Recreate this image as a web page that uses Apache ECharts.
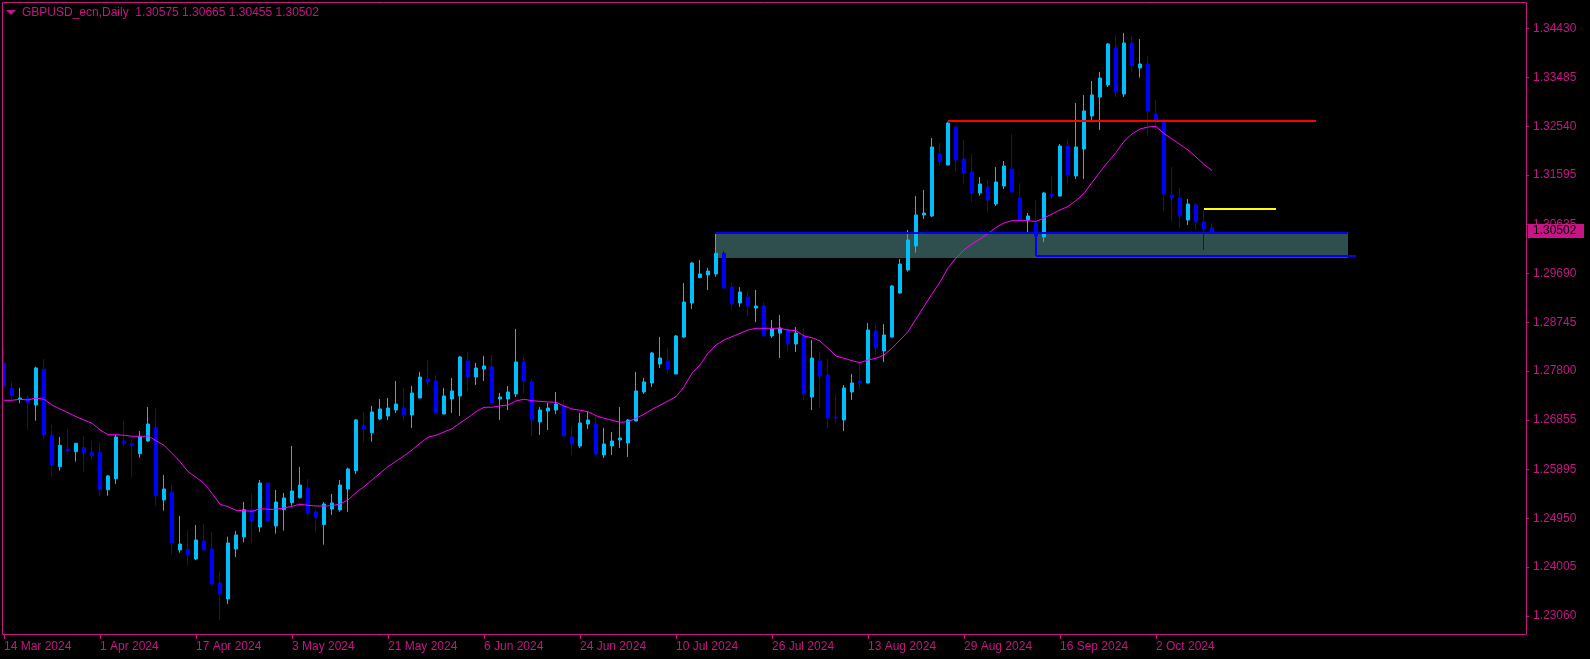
<!DOCTYPE html>
<html>
<head>
<meta charset="utf-8">
<script src="https://cdn.jsdelivr.net/npm/echarts@6/dist/echarts.min.js"></script>
<style>
html,body{margin:0;padding:0;background:#000;}
#chart{width:1590px;height:659px;}
</style>
</head>
<body>
<div id="chart"></div>
<script>
// ---------------- DATA ----------------
const symbolTitle = 'GBPUSD_ecn,Daily';
const firstBarDate = [2024, 2, 14];   // 14 Mar 2024 (UTC, month 0-based)
const barCount = 152;                  // daily bars up to 11 Oct 2024
const futureSlots = 39;                // empty space right of last bar
const xTickLabels = ['14 Mar 2024','1 Apr 2024','17 Apr 2024','3 May 2024','21 May 2024','6 Jun 2024',
  '24 Jun 2024','10 Jul 2024','26 Jul 2024','13 Aug 2024','29 Aug 2024','16 Sep 2024','2 Oct 2024'];
const xTickEvery = 12;
const yTickValues = [1.34430,1.33485,1.32540,1.31595,1.30635,1.29690,1.28745,1.27800,1.26855,1.25895,1.24950,1.24005,1.23060];
const yMin = 1.22692, yMax = 1.34947;

const openP = [
1.27952,1.27469,1.27256,1.27275,1.27145,1.27836,1.26559,1.25951,1.26293,1.26241,
1.26319,1.26230,1.26230,1.25505,1.25718,1.26448,1.26396,1.26202,1.26448,1.26714,
1.25306,1.25461,1.24338,1.24352,1.24164,1.24512,1.24357,1.23699,1.23389,1.24357,
1.24590,1.25118,1.24783,1.25635,1.24803,1.25118,1.25254,1.25351,1.25538,1.25074,
1.24828,1.25132,1.25112,1.25519,1.25873,1.26744,1.26609,1.26874,1.26932,1.27048,
1.27087,1.26952,1.27281,1.27649,1.27610,1.26971,1.27261,1.27319,1.27997,1.27687,
1.27842,1.27881,1.27261,1.27261,1.27358,1.27978,1.27591,1.26816,1.27029,1.27048,
1.27126,1.26526,1.26351,1.26777,1.26777,1.26177,1.26351,1.26468,1.26410,1.26835,
1.27397,1.27571,1.27939,1.27997,1.27745,1.28462,1.29120,1.29610,1.29662,1.29681,
1.30082,1.29430,1.29120,1.29236,1.29023,1.29062,1.28481,1.28539,1.28597,1.28326,
1.28481,1.27300,1.27997,1.27726,1.26913,1.26855,1.27397,1.27610,1.27571,1.28578,
1.28191,1.28462,1.29314,1.29759,1.30223,1.30824,1.30804,1.32005,1.31792,1.32527,
1.31908,1.31656,1.31250,1.31366,1.31037,1.31385,1.31714,1.31153,1.30727,1.30669,
1.30398,1.31230,1.31191,1.32159,1.31579,1.32101,1.32740,1.33108,1.33340,1.34057,
1.33166,1.34154,1.33670,1.33747,1.32779,1.32624,1.31211,1.31153,1.30727,1.31017,
1.30688,1.30575];
const highP = [
1.28243,1.27596,1.27474,1.27339,1.27887,1.28036,1.26758,1.26526,1.26681,1.26410,
1.26545,1.26448,1.26429,1.25790,1.26564,1.26835,1.26487,1.26642,1.27107,1.27081,
1.25790,1.25596,1.24996,1.24725,1.24822,1.24841,1.24687,1.23931,1.24596,1.24706,
1.25267,1.25428,1.25693,1.25640,1.25500,1.25442,1.26351,1.25945,1.25713,1.25132,
1.25267,1.25422,1.25693,1.25931,1.26874,1.27010,1.27126,1.27261,1.27281,1.27610,
1.27474,1.27513,1.27784,1.28016,1.27726,1.27474,1.27668,1.28094,1.28171,1.27958,
1.28094,1.28113,1.27378,1.27513,1.28617,1.28075,1.27649,1.27107,1.27184,1.27397,
1.27242,1.26739,1.26990,1.27010,1.26932,1.26700,1.26623,1.27107,1.26874,1.27784,
1.27668,1.28171,1.28462,1.28255,1.28500,1.29507,1.29914,1.29952,1.29798,1.30456,
1.30127,1.29507,1.29430,1.29352,1.29372,1.29139,1.28791,1.28888,1.28655,1.28655,
1.28636,1.28404,1.28171,1.28036,1.27358,1.27532,1.27745,1.27939,1.28733,1.28694,
1.28713,1.29468,1.29972,1.30533,1.31191,1.31308,1.32314,1.32218,1.32624,1.32547,
1.32276,1.32005,1.31559,1.31501,1.31753,1.31869,1.32392,1.31443,1.30862,1.31114,
1.31269,1.31579,1.32198,1.32295,1.32992,1.33147,1.33418,1.33592,1.34154,1.34308,
1.34347,1.34289,1.34231,1.33902,1.33050,1.32702,1.31753,1.31346,1.31133,1.31056,
1.30920,1.30665];
const lowP = [
1.27494,1.27256,1.27178,1.26661,1.26841,1.26487,1.25738,1.25873,1.26202,1.26048,
1.25854,1.26080,1.25389,1.25389,1.25616,1.26338,1.25738,1.26125,1.26429,1.25196,
1.25099,1.24247,1.24286,1.24034,1.24144,1.24320,1.23641,1.22983,1.23293,1.24203,
1.24487,1.24474,1.24687,1.24880,1.24654,1.24712,1.25196,1.25331,1.24996,1.24673,
1.24441,1.25016,1.25080,1.25080,1.25809,1.26415,1.26435,1.26855,1.26855,1.26990,
1.26835,1.26700,1.27270,1.27513,1.26971,1.26960,1.26990,1.26932,1.27416,1.27532,
1.27610,1.27145,1.26855,1.27048,1.27300,1.27358,1.26545,1.26564,1.26661,1.26971,
1.26526,1.26177,1.26313,1.26681,1.26139,1.26119,1.26177,1.26313,1.26139,1.26830,
1.27358,1.27494,1.27862,1.27765,1.27740,1.28442,1.29004,1.29600,1.29372,1.29629,
1.29391,1.28984,1.29043,1.28868,1.28752,1.28470,1.28442,1.28055,1.28191,1.28171,
1.27242,1.27048,1.27087,1.26700,1.26797,1.26642,1.27242,1.27455,1.27560,1.28113,
1.27978,1.28450,1.29294,1.29726,1.30094,1.30746,1.30785,1.31792,1.31780,1.31662,
1.31443,1.31075,1.31197,1.30868,1.30998,1.31327,1.31260,1.30720,1.30475,1.30378,
1.30301,1.31133,1.31178,1.31443,1.31521,1.31521,1.32663,1.32469,1.33302,1.33108,
1.33108,1.33598,1.33482,1.32359,1.32469,1.30901,1.30688,1.30572,1.30630,1.30533,
1.30146,1.30455];
const closeP = [
1.27519,1.27325,1.27281,1.27190,1.27862,1.26564,1.25984,1.26365,1.26255,1.26404,
1.26222,1.26164,1.25505,1.25771,1.26526,1.26396,1.26357,1.26532,1.26777,1.25389,
1.25519,1.24479,1.24454,1.24241,1.24532,1.24338,1.23680,1.23486,1.24474,1.24628,
1.25118,1.24899,1.25635,1.24899,1.25267,1.25345,1.25480,1.25596,1.25054,1.24963,
1.25229,1.25248,1.25596,1.25906,1.26855,1.26681,1.27010,1.27068,1.27087,1.27165,
1.26952,1.27378,1.27687,1.27591,1.26990,1.27319,1.27416,1.28075,1.27687,1.27862,
1.27900,1.27184,1.27300,1.27397,1.27978,1.27610,1.26855,1.27048,1.27087,1.27165,
1.26545,1.26390,1.26797,1.26855,1.26197,1.26390,1.26448,1.26506,1.26855,1.27416,
1.27591,1.28152,1.28055,1.27842,1.28481,1.29139,1.29894,1.29681,1.29739,1.30082,
1.29410,1.29101,1.29333,1.29062,1.29062,1.28481,1.28617,1.28636,1.28326,1.28539,
1.27358,1.28055,1.27707,1.26894,1.26894,1.27474,1.27571,1.27571,1.28597,1.28249,
1.28500,1.29449,1.29875,1.30340,1.30824,1.30862,1.32140,1.31856,1.32605,1.31888,
1.31637,1.31250,1.31424,1.31114,1.31462,1.31772,1.31269,1.30727,1.30804,1.30417,
1.31250,1.31191,1.32159,1.31598,1.32140,1.32837,1.33147,1.33476,1.34134,1.33205,
1.34154,1.33714,1.33747,1.32837,1.32663,1.31230,1.31153,1.30804,1.31037,1.30688,
1.30553,1.30502];
const maValues = [
1.27236,1.27236,1.27256,1.27242,1.27281,1.27256,1.27145,1.27068,1.26996,1.26919,
1.26855,1.26791,1.26661,1.26570,1.26570,1.26559,1.26539,1.26539,1.26545,1.26454,
1.26365,1.26210,1.26048,1.25854,1.25745,1.25629,1.25436,1.25223,1.25176,1.25107,
1.25099,1.25087,1.25138,1.25126,1.25126,1.25151,1.25184,1.25223,1.25203,1.25190,
1.25190,1.25196,1.25229,1.25306,1.25447,1.25564,1.25693,1.25823,1.25951,1.26055,
1.26158,1.26274,1.26404,1.26520,1.26559,1.26623,1.26686,1.26797,1.26899,1.27016,
1.27101,1.27101,1.27126,1.27145,1.27223,1.27256,1.27228,1.27217,1.27203,1.27198,
1.27126,1.27068,1.27043,1.27016,1.26938,1.26888,1.26849,1.26810,1.26822,1.26888,
1.26965,1.27062,1.27139,1.27223,1.27306,1.27500,1.27759,1.27920,1.28146,1.28307,
1.28404,1.28468,1.28533,1.28597,1.28630,1.28630,1.28630,1.28630,1.28597,1.28584,
1.28481,1.28448,1.28384,1.28243,1.28094,1.28049,1.28003,1.27964,1.28016,1.28049,
1.28113,1.28243,1.28404,1.28564,1.28810,1.29052,1.29294,1.29527,1.29798,1.29991,
1.30146,1.30262,1.30359,1.30465,1.30582,1.30669,1.30713,1.30713,1.30713,1.30698,
1.30766,1.30843,1.30920,1.30988,1.31104,1.31240,1.31453,1.31656,1.31850,1.32034,
1.32247,1.32392,1.32489,1.32527,1.32537,1.32401,1.32295,1.32189,1.32082,1.31947,
1.31801,1.31685];

// drawn objects (bar index from / to, price)
const resistance = {from: 118, to: 164, price: 1.32649};
const yellowLevel = {from: 150, to: 159, price: 1.30946};
const zone = {from: 89, to: 168, top: 1.30456, bottom: 1.29991};
const zoneTopLine = {from: 89, to: 168, price: 1.30470};
const boxB = {from: 129, to: 169, top: 1.30470, bottom: 1.30030};

// ---------------- BUILD ----------------
const categories = [];
(function () {
  const d = new Date(Date.UTC(firstBarDate[0], firstBarDate[1], firstBarDate[2]));
  while (categories.length < barCount) {
    const wd = d.getUTCDay();
    if (wd !== 0 && wd !== 6) categories.push(d.toISOString().slice(0, 10));
    d.setUTCDate(d.getUTCDate() + 1);
  }
  for (let k = 0; k < futureSlots; k++) categories.push('f' + k);
})();

const candleData = openP.map((o, i) => [o, closeP[i], lowP[i], highP[i]]);
const last = candleData.length - 1;
const fmt = v => v.toFixed(5);
const titleText = symbolTitle + '  ' + fmt(openP[last]) + ' ' + fmt(highP[last]) + ' ' + fmt(lowP[last]) + ' ' + fmt(closeP[last]);

const MT = '#C71585';
const FONT = 'Liberation Sans';
const showTick = (i) => i % xTickEvery === 0 && i / xTickEvery < xTickLabels.length;
const seg = (x1, y1, x2, y2, color) => [
  {coord: [x1, y1], lineStyle: {color: color, width: 2, type: 'solid', opacity: 1}},
  {coord: [x2, y2]}
];

const chart = echarts.init(document.getElementById('chart'), null, {renderer: 'canvas'});
chart.setOption({
  backgroundColor: '#000000',
  animation: false,
  grid: {left: 0, right: 62, top: 2, bottom: 24, containLabel: false},
  xAxis: {
    type: 'category',
    data: categories,
    boundaryGap: true,
    axisLine: {show: false},
    axisTick: {show: true, interval: showTick, alignWithLabel: true, length: 4, lineStyle: {color: MT, width: 1}},
    axisLabel: {
      interval: showTick,
      formatter: (v, i) => xTickLabels[i / xTickEvery],
      align: 'left', color: MT, fontSize: 12, fontFamily: FONT, margin: 6
    },
    splitLine: {show: false}
  },
  yAxis: {
    type: 'value',
    position: 'right',
    offset: -2,
    min: yMin, max: yMax,
    axisLine: {show: false},
    splitLine: {show: false},
    axisTick: {show: true, length: 3, customValues: yTickValues, lineStyle: {color: MT, width: 1}},
    axisLabel: {customValues: yTickValues, formatter: v => v.toFixed(5), color: MT, fontSize: 12, fontFamily: FONT, margin: 7}
  },
  series: [
    {
      name: 'zone', type: 'line', data: [], z: 1, silent: true,
      markArea: {
        silent: true,
        itemStyle: {color: '#2F4F4F', opacity: 1, borderWidth: 0},
        data: [[{coord: [zone.from, zone.top]}, {coord: [zone.to, zone.bottom]}]]
      }
    },
    {
      name: 'price', type: 'candlestick', data: candleData, z: 3,
      barWidth: 4,
      itemStyle: {color: '#00BFFF', color0: '#0000FF', borderColor: '#00BFFF', borderColor0: '#0000FF', borderWidth: 1}
    },
    {
      name: 'ma', type: 'line', data: maValues, z: 4, symbol: 'none', silent: true,
      lineStyle: {color: '#FF00FF', width: 1},
      markLine: {
        silent: true, symbol: 'none', animation: false,
        label: {show: false},
        data: [
          seg(resistance.from, resistance.price, resistance.to, resistance.price, '#FF0000'),
          seg(yellowLevel.from, yellowLevel.price, yellowLevel.to, yellowLevel.price, '#FFFF00'),
          seg(zoneTopLine.from, zoneTopLine.price, zoneTopLine.to, zoneTopLine.price, '#0000FF'),
          seg(boxB.from, boxB.top, boxB.from, boxB.bottom, '#0000FF'),
          seg(boxB.from, boxB.bottom, boxB.to, boxB.bottom, '#0000FF')
        ]
      }
    }
  ],
  graphic: [
    {type: 'rect', z: 100, silent: true, shape: {x: 2.5, y: 2.5, width: 1524, height: 632},
     style: {fill: 'none', stroke: MT, lineWidth: 1}},
    {type: 'polygon', z: 100, silent: true, shape: {points: [[6, 10], [16, 10], [11, 15]]}, style: {fill: MT}},
    {type: 'text', z: 100, silent: true, x: 22, y: 12.5,
     style: {text: titleText, fill: MT, font: '12px "Liberation Sans"', textVerticalAlign: 'middle'}}
  ]
});

// last-price tag on the price scale, positioned through the y axis scale
const py = chart.convertToPixel({yAxisIndex: 0}, closeP[last]);
chart.setOption({
  graphic: [
    {type: 'rect', z: 100, silent: true, shape: {x: 2.5, y: 2.5, width: 1524, height: 632},
     style: {fill: 'none', stroke: MT, lineWidth: 1}},
    {type: 'polygon', z: 100, silent: true, shape: {points: [[6, 10], [16, 10], [11, 15]]}, style: {fill: MT}},
    {type: 'text', z: 100, silent: true, x: 22, y: 12.5,
     style: {text: titleText, fill: MT, font: '12px "Liberation Sans"', textVerticalAlign: 'middle'}},
    {type: 'rect', z: 101, silent: true, shape: {x: 1528, y: Math.round(py) - 8, width: 56, height: 14},
     style: {fill: MT}},
    {type: 'text', z: 102, silent: true, x: 1533, y: Math.round(py) - 1,
     style: {text: fmt(closeP[last]), fill: '#000000', font: '12px "Liberation Sans"', textVerticalAlign: 'middle'}}
  ]
});
</script>
</body>
</html>
